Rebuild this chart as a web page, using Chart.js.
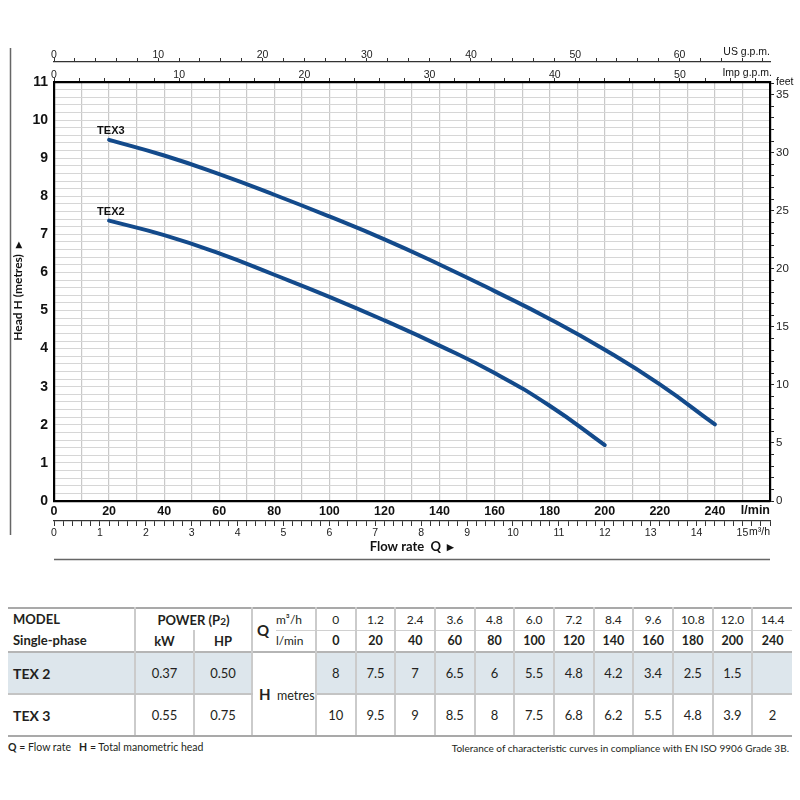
<!DOCTYPE html>
<html>
<head>
<meta charset="utf-8">
<script src="https://cdn.jsdelivr.net/npm/chart.js@4.4.1/dist/chart.umd.min.js"></script>
<style>
html,body{margin:0;padding:0;background:#fff;}
#wrap{position:relative;width:800px;height:800px;overflow:hidden;background:#fff;}
#chartBox{position:absolute;left:0;top:0;width:800px;height:570px;}
#tbl{position:absolute;left:8px;top:607px;border-collapse:collapse;table-layout:fixed;font-family:Lato,'Noto Sans',sans-serif;color:#231f20;font-size:13px;}
#tbl td{padding:0;text-align:center;vertical-align:middle;white-space:nowrap;}
.foot{position:absolute;top:741px;font-family:Lato,'Noto Sans',sans-serif;color:#231f20;white-space:nowrap;}
</style>
</head>
<body>
<div id="wrap">
  <div id="chartBox"><canvas id="c"></canvas></div>
  <table id="tbl"></table>
  <div class="foot" style="left:8px;font-size:10.5px;"><b>Q</b> = Flow rate &nbsp; <b>H</b> = Total manometric head</div>
  <div class="foot" style="right:11px;font-size:10px;top:742px;">Tolerance of characteristic curves in compliance with EN ISO 9906 Grade 3B.</div>
</div>
<script>
// ---------------- DATA ----------------
// curve readings (flow l/min -> head m)
const tex2Flow = [20, 40, 60, 80, 100, 120, 140, 160, 180, 200];
const tex2Head = [7.36, 6.98, 6.5, 5.94, 5.36, 4.74, 4.08, 3.36, 2.5, 1.47];
const tex3Flow = [20, 40, 60, 80, 100, 120, 140, 160, 180, 200, 220, 240];
const tex3Head = [9.48, 9.07, 8.58, 8.04, 7.47, 6.87, 6.21, 5.51, 4.78, 3.97, 3.06, 2.01];
const curveNames = ['TEX2', 'TEX3'];

// table
const tableM3h = ['0', '1.2', '2.4', '3.6', '4.8', '6.0', '7.2', '8.4', '9.6', '10.8', '12.0', '14.4'];
const tableLmin = ['0', '20', '40', '60', '80', '100', '120', '140', '160', '180', '200', '240'];
const tableTex2 = ['8', '7.5', '7', '6.5', '6', '5.5', '4.8', '4.2', '3.4', '2.5', '1.5', ''];
const tableTex3 = ['10', '9.5', '9', '8.5', '8', '7.5', '6.8', '6.2', '5.5', '4.8', '3.9', '2'];
const models = ['TEX 2', 'TEX 3'];
const powerKW = ['0.37', '0.55'];
const powerHP = ['0.50', '0.75'];

// axis ranges / unit conversions
const LPM_MAX = 260;
const HEAD_MAX = 11;
const LPM_PER_M3H = 1000 / 60;
const LPM_PER_USGPM = 3.78541;
const LPM_PER_IMPGPM = 4.54609;
const FT_PER_M = 3.28084;

// ---------------- CHART ----------------
const NARROW = "'Liberation Sans Narrow','Arial Narrow','Liberation Sans',sans-serif";
const CURVE = '#134a8b';
const isInt = v => Math.abs(v - Math.round(v)) < 1e-6;

const decor = {
  id: 'decor',
  afterDraw(chart) {
    const {ctx, chartArea: a, scales: s} = chart;
    ctx.save();
    ctx.strokeStyle = '#666'; ctx.lineWidth = 1.5;
    ctx.beginPath(); ctx.moveTo(10.5, 48); ctx.lineTo(10.5, 535); ctx.stroke();
    ctx.beginPath(); ctx.moveTo(a.left, 559.5); ctx.lineTo(a.right, 559.5); ctx.stroke();
    ctx.fillStyle = '#111';
    ctx.textAlign = 'right'; ctx.textBaseline = 'middle';
    ctx.font = 'bold 12.5px ' + NARROW;
    ctx.fillText('l/min', a.right, s.x.top + 10);
    ctx.font = '10.5px ' + NARROW;
    ctx.fillText('m³/h', a.right, s.xm3.top + 11);
    ctx.fillText('US g.p.m.', a.right, s.xus.bottom - 10);
    ctx.fillText('Imp g.p.m.', a.right + 2, s.ximp.bottom - 9);
    ctx.textAlign = 'left';
    ctx.fillText('feet', a.right + 6, a.top);
    ctx.font = 'bold 11px ' + NARROW;
    ctx.textBaseline = 'alphabetic';
    chart.data.datasets.forEach((d, i) => {
      const p = chart.getDatasetMeta(i).data[0];
      ctx.fillText(d.label, p.x - 12, p.y - 6);
    });
    ctx.restore();
  }
};

const mk = (xs, ys) => xs.map((x, i) => ({x, y: ys[i]}));

new Chart(document.getElementById('c'), {
  type: 'line',
  data: {
    datasets: [
      {label: curveNames[0], data: mk(tex2Flow, tex2Head), xAxisID: 'x', yAxisID: 'y',
       borderColor: CURVE, borderWidth: 4, pointRadius: 0, tension: 0.5, borderCapStyle: 'round', fill: false},
      {label: curveNames[1], data: mk(tex3Flow, tex3Head), xAxisID: 'x', yAxisID: 'y',
       borderColor: CURVE, borderWidth: 4, pointRadius: 0, tension: 0.5, borderCapStyle: 'round', fill: false}
    ]
  },
  options: {
    responsive: true, maintainAspectRatio: false, animation: false,
    layout: {padding: {top: 40, bottom: 11, left: 0, right: 0}},
    plugins: {legend: {display: false}, tooltip: {enabled: false}},
    scales: {
      x: {
        type: 'linear', position: 'bottom', weight: 0, min: 0, max: LPM_MAX,
        border: {display: true, color: '#000', width: 2.2},
        grid: {color: '#c9c9c9', lineWidth: 1.2, drawTicks: false},
        ticks: {stepSize: 10, autoSkip: false, includeBounds: false, maxTicksLimit: 1000, padding: 3, maxRotation: 0,
          color: '#111', font: {family: NARROW, size: 12.5, weight: 'bold'},
          callback: v => (v % 20 === 0 && v < LPM_MAX) ? String(v) : ''},
        afterFit: s => { s.height = 20; }
      },
      xm3: {
        type: 'linear', position: 'bottom', weight: 1, min: 0, max: LPM_MAX / LPM_PER_M3H,
        border: {display: true, color: '#333', width: 1.2},
        grid: {drawOnChartArea: false, drawTicks: true, tickLength: 5, color: '#333', lineWidth: 1},
        ticks: {stepSize: 0.2, autoSkip: false, includeBounds: false, maxTicksLimit: 1000, padding: 1, maxRotation: 0,
          color: '#222', font: {family: NARROW, size: 10.5},
          callback: v => (isInt(v) && v < 15.5) ? String(Math.round(v)) : ''},
        title: {display: true, text: 'Flow rate  Q  ▸', color: '#111', font: {family: 'Lato', size: 13, weight: 'bold'}, padding: {top: 0, bottom: 4}},
        afterFit: s => { s.height = 38; }
      },
      ximp: {
        type: 'linear', position: 'top', weight: 1, min: 0, max: LPM_MAX / LPM_PER_IMPGPM,
        border: {display: true, color: '#000', width: 2.2},
        grid: {drawOnChartArea: false, drawTicks: true, tickLength: 4, color: '#333', lineWidth: 1},
        ticks: {stepSize: 2, autoSkip: false, includeBounds: false, maxTicksLimit: 1000, padding: -3, maxRotation: 0,
          color: '#222', font: {family: NARROW, size: 10.5},
          callback: v => (v % 10 === 0) ? String(v) : ''},
        afterFit: s => { s.height = 20; }
      },
      xus: {
        type: 'linear', position: 'top', weight: 2, min: 0, max: LPM_MAX / LPM_PER_USGPM,
        border: {display: true, color: '#333', width: 1.2},
        grid: {drawOnChartArea: false, drawTicks: true, tickLength: 4, color: '#333', lineWidth: 1},
        ticks: {stepSize: 2, autoSkip: false, includeBounds: false, maxTicksLimit: 1000, padding: -3, maxRotation: 0,
          color: '#222', font: {family: NARROW, size: 10.5},
          callback: v => (v % 10 === 0) ? String(v) : ''},
        afterFit: s => { s.height = 22; }
      },
      y: {
        type: 'linear', position: 'left', min: 0, max: HEAD_MAX,
        border: {display: true, color: '#000', width: 2.2},
        grid: {color: '#d6d6d6', lineWidth: 1, drawTicks: false},
        ticks: {stepSize: 0.2, autoSkip: false, maxTicksLimit: 1000, padding: 6,
          color: '#111', font: {family: NARROW, size: 14, weight: 'bold'},
          callback: v => isInt(v) ? String(Math.round(v)) : ''},
        title: {display: true, text: 'Head H (metres)  ▸', color: '#111', font: {family: 'Lato', size: 12, weight: 'bold'}, padding: {top: 11, bottom: 0}},
        afterFit: s => { s.width = 54; }
      },
      yft: {
        type: 'linear', position: 'right', min: 0, max: HEAD_MAX * FT_PER_M,
        border: {display: true, color: '#000', width: 2.2},
        grid: {drawOnChartArea: false, drawTicks: true, tickLength: 4, color: '#222', lineWidth: 1},
        ticks: {stepSize: 1, autoSkip: false, includeBounds: false, maxTicksLimit: 1000, padding: 2,
          color: '#222', font: {family: NARROW, size: 11.5},
          callback: v => (v % 5 === 0) ? String(v) : ''},
        afterFit: s => { s.width = 30; }
      }
    }
  },
  plugins: [decor]
});

// ---------------- TABLE ----------------
(function buildTable() {
  const VB = '2px solid #cbcbcb';
  const widths = [127, 59, 58, 24, 40].concat(tableM3h.map(() => 476 / tableM3h.length));
  const shade = '#dde6ec';
  let h = '<colgroup>' + widths.map(w => `<col style="width:${w}px">`).join('') + '</colgroup>';
  // row 1
  h += '<tr style="height:21px;border-top:2px solid #a9a9a9;">';
  h += `<td rowspan="2" style="text-align:left;padding-left:5px;font-weight:bold;line-height:21px;border-right:${VB};">MODEL<br>Single-phase</td>`;
  h += `<td colspan="2" style="font-weight:bold;border-right:${VB};">POWER (P<span style="font-size:10px">2</span>)</td>`;
  h += '<td rowspan="2" style="font-weight:bold;font-size:15px;text-align:left;padding-left:4px;">Q</td>';
  h += `<td style="text-align:left;font-size:12px;border-right:${VB};border-bottom:1.5px solid #d0d0d0;">m³/h</td>`;
  tableM3h.forEach((v, i) => {
    h += `<td style="font-size:12px;border-bottom:1.5px solid #d0d0d0;${i < tableM3h.length - 1 ? 'border-right:' + VB + ';' : ''}">${v}</td>`;
  });
  h += '</tr>';
  // row 2
  h += '<tr style="height:21px;border-bottom:2px solid #b5b5b5;">';
  h += `<td style="font-weight:bold;border-right:${VB};">kW</td><td style="font-weight:bold;border-right:${VB};">HP</td>`;
  h += `<td style="text-align:left;font-size:12px;border-right:${VB};">l/min</td>`;
  tableLmin.forEach((v, i) => {
    h += `<td style="font-weight:bold;font-size:12.5px;${i < tableLmin.length - 1 ? 'border-right:' + VB + ';' : ''}">${v}</td>`;
  });
  h += '</tr>';
  // model rows
  const rowsH = [tableTex2, tableTex3];
  models.forEach((m, r) => {
    const bg = r === 0 ? `background:${shade};` : '';
    const bb = r === 0 ? 'border-bottom:2px solid #c4c4c4;' : 'border-bottom:2px solid #a9a9a9;';
    h += `<tr style="height:42px;">`;
    h += `<td style="${bg}${bb}text-align:left;padding-left:5px;font-weight:bold;font-size:14px;border-right:${VB};">${m}</td>`;
    h += `<td style="${bg}${bb}border-right:${VB};">${powerKW[r]}</td>`;
    h += `<td style="${bg}${bb}border-right:${VB};">${powerHP[r]}</td>`;
    if (r === 0) {
      h += `<td colspan="2" rowspan="2" style="text-align:left;padding-left:6px;font-size:12.5px;border-right:${VB};border-bottom:2px solid #a9a9a9;"><b style="font-size:15px">H</b>&nbsp;&nbsp;metres</td>`;
    }
    rowsH[r].forEach((v, i) => {
      h += `<td style="${bg}${bb}${i < rowsH[r].length - 1 ? 'border-right:' + VB + ';' : ''}">${v}</td>`;
    });
    h += '</tr>';
  });
  document.getElementById('tbl').innerHTML = h;
})();
</script>
</body>
</html>
